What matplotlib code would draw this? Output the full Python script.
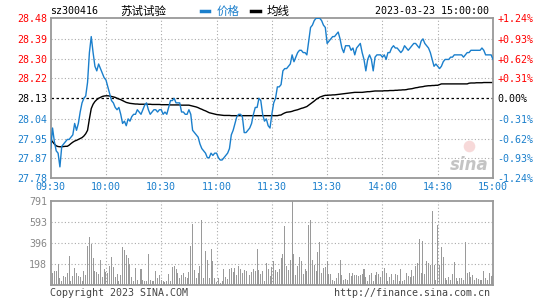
import numpy as np
import matplotlib.pyplot as plt
from matplotlib.lines import Line2D

# minute-by-minute data (09:30-11:30, 13:00-15:00)
price = [
    27.91, 28.00, 27.94, 27.90, 27.89, 27.83, 27.92, 27.93, 27.94, 27.95,
    27.95, 27.96, 27.97, 28.02, 27.99, 28.02, 28.07, 28.11, 28.13, 28.14,
    28.20, 28.33, 28.40, 28.33, 28.27, 28.25, 28.28, 28.26, 28.24, 28.22,
    28.21, 28.18, 28.15, 28.12, 28.11, 28.09, 28.08, 28.09, 28.06, 28.02,
    28.03, 28.01, 28.04, 28.03, 28.05, 28.06, 28.06, 28.08, 28.07, 28.06,
    28.08, 28.10, 28.11, 28.08, 28.06, 28.07, 28.08, 28.08, 28.07, 28.08,
    28.08, 28.06, 28.07, 28.06, 28.09, 28.12, 28.12, 28.13, 28.11, 28.11,
    28.11, 28.07, 28.07, 28.06, 28.06, 28.08, 28.06, 27.99, 27.98, 27.97,
    27.96, 27.93, 27.91, 27.90, 27.89, 27.87, 27.87, 27.89, 27.88, 27.89,
    27.89, 27.87, 27.86, 27.86, 27.87, 27.88, 27.89, 27.91, 27.97, 27.99,
    28.02, 28.05, 28.06, 28.06, 28.05, 27.98, 27.98, 27.99, 28.00, 28.02,
    28.06, 28.09, 28.09, 28.13, 28.12, 28.06, 28.03, 28.04, 28.01, 28.00,
    28.06, 28.11, 28.13, 28.18, 28.18, 28.19, 28.25, 28.26, 28.26, 28.27,
    28.28, 28.32, 28.29, 28.31, 28.33, 28.34, 28.34, 28.33, 28.33, 28.32,
    28.38, 28.44, 28.45, 28.47, 28.48, 28.48, 28.48, 28.47, 28.45, 28.44,
    28.37, 28.38, 28.39, 28.40, 28.40, 28.41, 28.42, 28.39, 28.35, 28.33,
    28.36, 28.36, 28.36, 28.34, 28.35, 28.32, 28.35, 28.36, 28.37, 28.33,
    28.30, 28.25, 28.30, 28.32, 28.30, 28.25, 28.31, 28.32, 28.32, 28.32,
    28.31, 28.32, 28.30, 28.33, 28.33, 28.35, 28.36, 28.35, 28.35, 28.34,
    28.33, 28.34, 28.36, 28.35, 28.34, 28.35, 28.36, 28.37, 28.37, 28.36,
    28.35, 28.38, 28.39, 28.37, 28.36, 28.35, 28.33, 28.30, 28.27, 28.28,
    28.27, 28.26, 28.27, 28.29, 28.30, 28.30, 28.30, 28.31, 28.31, 28.32,
    28.32, 28.32, 28.32, 28.32, 28.31, 28.32, 28.33, 28.33, 28.34, 28.34,
    28.34, 28.34, 28.34, 28.34, 28.35, 28.34, 28.32, 28.32, 28.32, 28.32,
    28.30,
]

avg_price = [
    27.950, 27.940, 27.930, 27.922, 27.919, 27.918, 27.918, 27.919, 27.920, 27.920,
    27.925, 27.932, 27.938, 27.943, 27.946, 27.950, 27.954, 27.958, 27.965, 27.975,
    27.990, 28.040, 28.085, 28.104, 28.116, 28.124, 28.130, 28.134, 28.138, 28.140,
    28.141, 28.141, 28.140, 28.138, 28.136, 28.134, 28.130, 28.127, 28.124, 28.120,
    28.116, 28.112, 28.110, 28.108, 28.107, 28.106, 28.105, 28.105, 28.104, 28.104,
    28.104, 28.104, 28.104, 28.104, 28.104, 28.103, 28.103, 28.103, 28.103, 28.103,
    28.102, 28.102, 28.102, 28.102, 28.102, 28.101, 28.101, 28.101, 28.101, 28.101,
    28.101, 28.100, 28.100, 28.100, 28.100, 28.100, 28.098, 28.096, 28.094, 28.092,
    28.089, 28.085, 28.082, 28.078, 28.075, 28.071, 28.067, 28.065, 28.063, 28.061,
    28.059, 28.058, 28.057, 28.056, 28.055, 28.055, 28.055, 28.055, 28.054, 28.054,
    28.054, 28.054, 28.054, 28.054, 28.054, 28.054, 28.054, 28.054, 28.054, 28.054,
    28.054, 28.054, 28.054, 28.054, 28.054, 28.054, 28.054, 28.054, 28.054, 28.054,
    28.054, 28.054, 28.054, 28.054, 28.056, 28.057, 28.062, 28.066, 28.069, 28.070,
    28.071, 28.073, 28.076, 28.078, 28.080, 28.083, 28.086, 28.088, 28.091, 28.094,
    28.100, 28.106, 28.112, 28.118, 28.125, 28.130, 28.135, 28.138, 28.141, 28.143,
    28.143, 28.144, 28.144, 28.145, 28.145, 28.146, 28.147, 28.148, 28.149, 28.150,
    28.151, 28.152, 28.153, 28.154, 28.155, 28.156, 28.156, 28.156, 28.156, 28.156,
    28.157, 28.158, 28.159, 28.159, 28.160, 28.161, 28.162, 28.162, 28.162, 28.162,
    28.162, 28.163, 28.163, 28.163, 28.164, 28.164, 28.164, 28.165, 28.165, 28.166,
    28.166, 28.167, 28.167, 28.168, 28.170, 28.171, 28.172, 28.174, 28.176, 28.177,
    28.179, 28.180, 28.181, 28.183, 28.184, 28.185, 28.185, 28.186, 28.186, 28.187,
    28.187, 28.190, 28.193, 28.193, 28.193, 28.193, 28.193, 28.193, 28.193, 28.193,
    28.193, 28.193, 28.193, 28.193, 28.193, 28.193, 28.193, 28.196, 28.197, 28.197,
    28.197, 28.198, 28.198, 28.198, 28.198, 28.199, 28.199, 28.199, 28.199, 28.199,
    28.199,
]

volume = [
    327, 116, 138, 138, 201, 69, 38, 85, 75, 116,
    273, 38, 85, 163, 116, 85, 75, 44, 132, 100,
    367, 452, 389, 257, 132, 126, 107, 239, 75, 157,
    126, 116, 179, 264, 170, 75, 107, 38, 100, 358,
    336, 289, 257, 201, 75, 38, 163, 53, 13, 157,
    53, 44, 38, 295, 53, 38, 44, 138, 69, 100,
    53, 38, 31, 38, 107, 38, 170, 179, 157, 116,
    69, 94, 116, 75, 69, 126, 367, 575, 148, 69,
    116, 179, 615, 69, 327, 242, 69, 345, 226, 69,
    31, 69, 22, 44, 157, 75, 63, 157, 163, 126,
    163, 94, 179, 157, 116, 148, 132, 13, 94, 126,
    157, 138, 345, 148, 107, 132, 38, 210, 157, 85,
    170, 232, 148, 126, 157, 257, 295, 556, 179, 148,
    242, 791, 295, 100, 179, 264, 232, 107, 157, 132,
    565, 615, 242, 195, 138, 314, 408, 116, 163, 170,
    232, 107, 107, 53, 44, 69, 116, 242, 94, 53,
    63, 53, 116, 85, 116, 94, 100, 85, 94, 107,
    157, 75, 44, 94, 116, 38, 94, 126, 107, 75,
    132, 163, 116, 44, 75, 107, 53, 107, 100, 44,
    157, 38, 53, 116, 85, 75, 148, 85, 179, 210,
    440, 116, 414, 107, 232, 210, 195, 703, 195, 53,
    565, 195, 358, 264, 69, 53, 75, 53, 107, 220,
    69, 44, 69, 69, 53, 408, 116, 126, 75, 94,
    53, 69, 63, 53, 53, 138, 69, 53, 116, 85,
    100,
]

prev_close = 28.13
price_ticks = [27.78, 27.87, 27.95, 28.04, 28.13, 28.22, 28.30, 28.39, 28.48]
price_labels = ["27.78", "27.87", "27.95", "28.04", "28.13", "28.22", "28.30", "28.39", "28.48"]
pct_labels = ["-1.24%", "-0.93%", "-0.62%", "-0.31%", "0.00%", "+0.31%", "+0.62%", "+0.93%", "+1.24%"]
time_ticks = [0, 30, 60, 90, 120, 150, 180, 210, 240]
time_labels = ["09:30", "10:00", "10:30", "11:00", "11:30", "13:30", "14:00", "14:30", "15:00"]
vol_ticks = [198, 396, 593, 791]
vol_labels = ["198", "396", "593", "791"]

BLUE = "#1a7fcc"
RED = "#ff0000"
GRID = "#aaaaaa"
FRAME = "#999999"
MONO = "DejaVu Sans Mono"
FS = 7.2

W, H = 545, 300
fig = plt.figure(figsize=(W / 100, H / 100), dpi=100)
fig.patch.set_facecolor("white")


def px(x0, y0, x1, y1):
    # pixel box (top-left origin) -> figure fraction rect
    return [x0 / W, 1 - y1 / H, (x1 - x0) / W, (y1 - y0) / H]


def frame(ax):
    for s in ax.spines.values():
        s.set_color(FRAME)
        s.set_linewidth(1.3)
    ax.tick_params(length=0)


minutes = np.arange(len(price))

# ---- price panel
ax = fig.add_axes(px(50.7, 18.3, 493, 178.3))
frame(ax)
ax.set_xlim(0, 240)
ax.set_ylim(27.78, 28.48)
for t in time_ticks[1:-1]:
    ax.axvline(t, color=GRID, lw=0.8, ls=(0, (1, 2)), zorder=0)
for p in price_ticks[1:-1]:
    if p != prev_close:
        ax.axhline(p, color=GRID, lw=0.8, ls=(0, (1, 2)), zorder=0)
ax.axhline(prev_close, color="black", lw=0.9, ls=(0, (2, 2)), zorder=1)

ax.plot(minutes, price, color=BLUE, lw=1.0, zorder=3)
ax.plot(minutes, avg_price, color="black", lw=1.0, zorder=2)

ax.set_yticks(price_ticks)
ax.set_yticklabels(price_labels, fontfamily=MONO, fontsize=FS)
ax.tick_params(axis="y", pad=2.5)
for lab, p in zip(ax.get_yticklabels(), price_ticks):
    lab.set_color(RED if p > prev_close else ("black" if p == prev_close else BLUE))

ax.set_xticks(time_ticks)
ax.set_xticklabels(time_labels, fontfamily=MONO, fontsize=FS, color=BLUE)
ax.tick_params(axis="x", pad=3)

ax2 = ax.twinx()
ax2.set_ylim(27.78, 28.48)
ax2.set_yticks(price_ticks)
ax2.set_yticklabels(pct_labels, fontfamily=MONO, fontsize=FS)
ax2.tick_params(length=0, pad=3)
for s in ax2.spines.values():
    s.set_visible(False)
for lab, p in zip(ax2.get_yticklabels(), price_ticks):
    lab.set_color(RED if p > prev_close else ("black" if p == prev_close else BLUE))

# sina watermark
ax.text(0.99, 0.085, "sina", transform=ax.transAxes, ha="right", va="center",
        fontsize=12, fontweight="bold", fontstyle="italic", color="#c4c4c4", zorder=1)
ax.scatter([0.945], [0.2], s=70, transform=ax.transAxes, color="#f2c0c0",
           alpha=0.6, lw=0, zorder=1)

# ---- volume panel
vx = fig.add_axes(px(50.7, 201.3, 493, 285.3))
frame(vx)
vx.set_xlim(0, 240)
vx.set_ylim(0, 791)
for t in time_ticks[1:-1]:
    vx.axvline(t, color=GRID, lw=0.8, ls=(0, (1, 2)), zorder=0)
for v in vol_ticks[:-1]:
    vx.axhline(v, color=GRID, lw=0.8, ls=(0, (1, 2)), zorder=0)
vx.bar(minutes, volume, width=0.55, color="#9a9a9a", lw=0, zorder=2)
vx.set_xticks([])
vx.set_yticks(vol_ticks)
vx.set_yticklabels(vol_labels, fontfamily=MONO, fontsize=FS, color="#888888")
vx.tick_params(axis="y", pad=2.5)

# ---- header / footer texts
ty = 1 - 11 / H
fig.text(50.5 / W, ty, "sz300416", fontfamily=MONO, fontsize=FS, va="center", ha="left")
fig.text(120 / W, ty, "苏试试验", fontfamily=["Noto Sans CJK SC", "DejaVu Sans"],
         fontsize=8.3, va="center", ha="left")
fig.add_artist(Line2D([201 / W, 209 / W], [ty, ty], color=BLUE, lw=2.5))
fig.text(217 / W, ty, "价格", fontfamily=["Noto Sans CJK SC", "DejaVu Sans"],
         fontsize=8.3, va="center", ha="left", color=BLUE)
fig.add_artist(Line2D([251 / W, 260 / W], [ty, ty], color="black", lw=2.5))
fig.text(267 / W, ty, "均线", fontfamily=["Noto Sans CJK SC", "DejaVu Sans"],
         fontsize=8.3, va="center", ha="left")
fig.text(489 / W, ty, "2023-03-23 15:00:00", fontfamily=MONO, fontsize=FS,
         va="center", ha="right")

fy = 1 - 293 / H
fig.text(50 / W, fy, "Copyright 2023 SINA.COM", fontfamily=MONO, fontsize=FS,
         va="center", ha="left", color="#444444")
fig.text(490 / W, fy, "http://finance.sina.com.cn", fontfamily=MONO, fontsize=FS,
         va="center", ha="right", color="#444444")

fig.savefig("out.png", dpi=100)
